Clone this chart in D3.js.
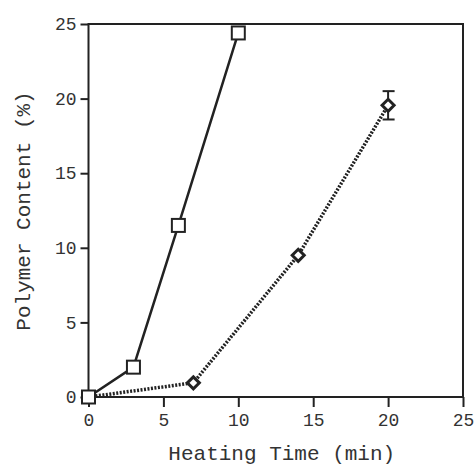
<!DOCTYPE html>
<html><head><meta charset="utf-8">
<script src="https://cdn.jsdelivr.net/npm/d3@7"></script>
<style>html,body{margin:0;padding:0;background:#fff;}</style>
</head><body>
<script>
const squareX = [0, 3, 6, 10];
const squareY = [0, 2.0, 11.5, 24.4];
const diamondX = [0, 7, 14, 20];
const diamondY = [0, 0.95, 9.5, 19.55];
const diamondErr = [0, 0, 0, 0.95];
const xTicks = [0, 5, 10, 15, 20, 25];
const yTicks = [0, 5, 10, 15, 20, 25];
const xLabel = "Heating Time (min)";
const yLabel = "Polymer Content (%)";

const W = 475, H = 466;
const m = {l: 88.5, r: 12, t: 24, b: 69};
const svg = d3.select("body").append("svg").attr("width", W).attr("height", H);
const x = d3.scaleLinear().domain([0, 25]).range([m.l, W - m.r]);
const y = d3.scaleLinear().domain([0, 25]).range([H - m.b, m.t]);
const font = "'Liberation Mono', 'Courier New', monospace";
const ink = "#222";

// frame
svg.append("rect").attr("x", x(0)).attr("y", y(25)).attr("width", x(25) - x(0)).attr("height", y(0) - y(25))
  .attr("fill", "none").attr("stroke", ink).attr("stroke-width", 2);

const xa = svg.append("g").attr("transform", `translate(0,${y(0)})`)
  .call(d3.axisBottom(x).tickValues(xTicks).tickSize(10).tickPadding(6));
const ya = svg.append("g").attr("transform", `translate(${x(0)},0)`)
  .call(d3.axisLeft(y).tickValues(yTicks).tickSize(8).tickPadding(4));
[xa, ya].forEach(a => {
  a.select(".domain").remove();
  a.selectAll("line").attr("stroke", ink).attr("stroke-width", 2);
  a.selectAll("text").attr("font-family", font).attr("font-size", 18).attr("fill", "#333");
});

svg.append("text").attr("x", (x(0) + x(25)) / 2 + 6).attr("y", 460)
  .attr("text-anchor", "middle").attr("font-family", font).attr("font-size", 21).attr("fill", "#333")
  .text(xLabel);
svg.append("text").attr("transform", `translate(30,${211}) rotate(-90)`)
  .attr("text-anchor", "middle").attr("font-family", font).attr("font-size", 21).attr("fill", "#333")
  .text(yLabel);

const sq = squareX.map((d, i) => ({x: d, y: squareY[i]}));
const di = diamondX.map((d, i) => ({x: d, y: diamondY[i], e: diamondErr[i]}));
const line = d3.line().x(d => x(d.x)).y(d => y(d.y));

svg.append("path").datum(di).attr("d", line).attr("fill", "none").attr("stroke", ink)
  .attr("stroke-width", 3.5).attr("stroke-dasharray", "2,1.5");
svg.append("path").datum(sq).attr("d", line).attr("fill", "none").attr("stroke", ink)
  .attr("stroke-width", 2.5);

// error bars
di.filter(d => d.e > 0).forEach(d => {
  const g = svg.append("g").attr("stroke", ink).attr("stroke-width", 2);
  g.append("line").attr("x1", x(d.x)).attr("x2", x(d.x)).attr("y1", y(d.y + d.e)).attr("y2", y(d.y - d.e));
  [d.y + d.e, d.y - d.e].forEach(v => g.append("line").attr("x1", x(d.x) - 5.5).attr("x2", x(d.x) + 6.5)
    .attr("y1", y(v)).attr("y2", y(v)));
});

// diamonds
svg.selectAll(".di").data(di.slice(1)).enter().append("path")
  .attr("d", d => { const cx = x(d.x), cy = y(d.y), r = 6; return `M${cx},${cy - r}L${cx + r},${cy}L${cx},${cy + r}L${cx - r},${cy}Z`; })
  .attr("fill", "#fff").attr("stroke", ink).attr("stroke-width", 3);

// squares
svg.selectAll(".sq").data(sq).enter().append("rect")
  .attr("x", d => x(d.x) - 6.5).attr("y", d => y(d.y) - 6.5).attr("width", 13).attr("height", 13)
  .attr("fill", "#fff").attr("stroke", ink).attr("stroke-width", 2);
</script>
</body></html>
